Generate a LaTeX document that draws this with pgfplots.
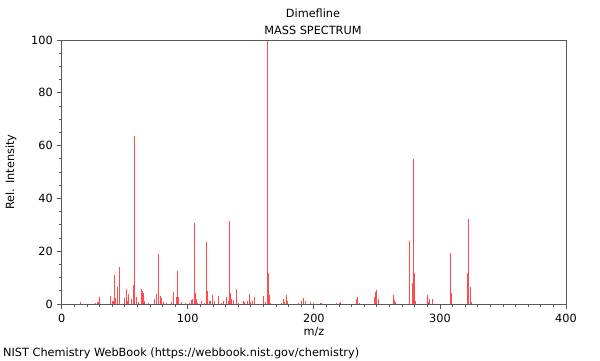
\documentclass[border=0pt]{standalone}
\usepackage{fontspec}
\setmainfont{DejaVu Sans}
\usepackage{pgfplots}
\usepackage{pgfplotstable}
\pgfplotsset{compat=1.18}
\pgfplotstableread{
mz I
15 0.8
27 0.5
28 0.8
29 0.8
30 2.8
39 3.0
40 1.0
41 1.3
42 10.9
43 2.3
44 6.3
46 14.2
50 2.3
51 5.8
52 1.3
53 3.8
55 1.8
57 7.3
58 63.5
59 2.8
61 0.8
63 5.8
64 5.0
65 4.3
66 1.3
69 0.5
74 2.0
75 3.8
77 18.9
78 3.0
79 2.3
81 0.8
83 0.5
87 0.8
89 4.5
91 2.8
92 12.6
93 2.8
95 0.8
98 0.5
101 0.5
103 1.5
104 1.8
105 30.8
106 4.3
107 1.8
108 0.5
111 1.3
113 0.5
115 23.5
116 5.0
117 1.3
118 1.3
120 3.5
121 1.0
124 3.0
127 0.5
128 1.0
131 2.8
132 1.3
133 31.3
134 4.3
135 1.8
136 1.5
139 5.5
140 0.5
144 1.3
145 0.8
147 1.3
149 3.8
150 0.8
151 1.3
153 2.5
160 3.0
162 0.8
163 100
164 11.6
165 3.3
166 0.5
174 0.5
176 1.8
177 0.8
178 3.3
179 1.3
188 0.5
190 1.0
192 2.3
193 1.3
197 0.8
200 0.5
205 0.5
206 0.5
218 0.5
220 0.5
221 0.8
234 2.0
235 2.5
236 0.5
248 2.8
249 4.5
250 5.3
251 1.8
263 3.5
264 1.5
265 0.8
276 23.7
278 7.8
279 55
280 11.9
281 1.3
290 3.5
291 0.8
292 1.8
294 1.8
308 19.4
309 4.3
322 11.9
323 32.3
324 6.6
325 0.8
}\spectrum
\begin{document}
\fontsize{11.3bp}{13bp}\selectfont
\begin{tikzpicture}[x=1bp,y=1bp]
\path (0,0) rectangle (600,360);
\begin{axis}[
  at={(61.7bp,56bp)}, anchor=south west,
  scale only axis, width=504.3bp, height=264bp,
  xmin=0, xmax=400, ymin=0, ymax=100,
  xtick={0,100,...,400}, ytick={0,20,...,100},
  minor x tick num=9, minor y tick num=3,
  tick align=outside, xtick pos=left, ytick pos=left,
  major tick length=5bp, minor tick length=3bp,
  axis line style={draw=black!65, line width=0.8bp},
  every tick/.style={draw=black!65, line width=0.8bp},
  ticklabel style={font=\fontsize{11.3bp}{13bp}\selectfont},
  xticklabel style={yshift=-1bp},
  /pgf/number format/assume math mode=true,
  /pgf/number format/1000 sep={},
]
\addplot[ycomb, draw=red, draw opacity=0.7, line width=1bp, mark=none] table[x=mz, y=I] {\spectrum};
\end{axis}
\node at (313,347) {Dimefline};
\node at (313,330) {MASS SPECTRUM};
\node at (314,28) {m/z};
\node[rotate=90] at (11,188) {Rel. Intensity};
\node[anchor=west, inner sep=0pt] at (3,7) {NIST Chemistry WebBook (https://webbook.nist.gov/chemistry)};
\end{tikzpicture}
\end{document}
